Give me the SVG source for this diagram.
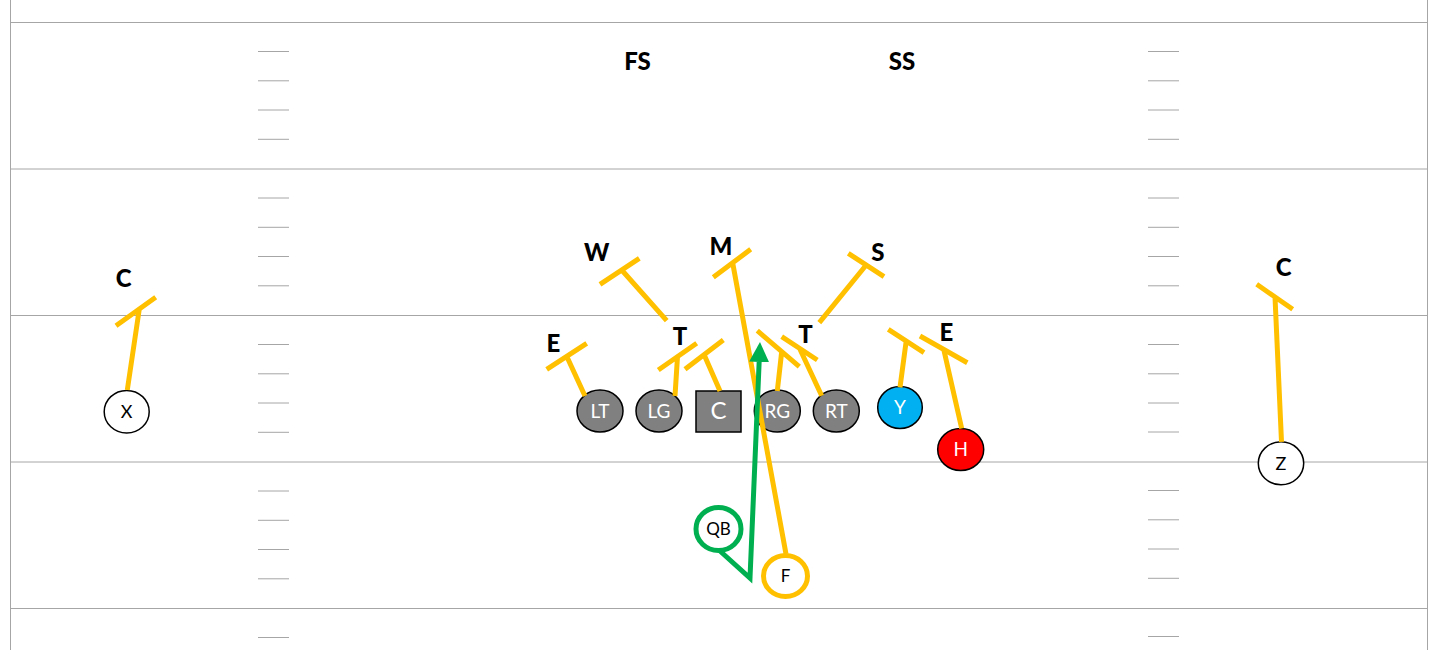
<svg xmlns="http://www.w3.org/2000/svg" width="1441" height="661" viewBox="0 0 1441 661">
<style>
.fl{stroke:#A6A6A6;stroke-width:1;fill:none}
.hm{stroke:#A6A6A6;stroke-width:1}
.rt{stroke:#FFC000;stroke-width:5;fill:none}
.gr{stroke:#00B050;stroke-width:5;fill:none}
.lbl{font-family:Lato,"Liberation Sans",sans-serif;font-weight:900;font-size:24px;text-anchor:middle;fill:#000}
.ol{fill:#808080;stroke:#000;stroke-width:1.5}
.wh{fill:#FFFFFF;stroke:#000;stroke-width:1.5}
.wt{font-family:Lato,"Liberation Sans",sans-serif;font-size:19px;text-anchor:middle;fill:#FFFFFF}
.bt{font-family:Lato,"Liberation Sans",sans-serif;font-size:18px;text-anchor:middle;fill:#000}
</style>
<defs>
<marker id="ah" viewBox="0 0 4 4" refX="0" refY="2" markerWidth="4" markerHeight="4" orient="auto" markerUnits="strokeWidth">
<path d="M0,0 L4,2 L0,4 Z" fill="#00B050"/>
</marker>
</defs>
<rect width="1441" height="661" fill="#FFFFFF"/>
<g id="field">
<path class="fl" d="M10.5,0 V650 M1427.5,0 V650 M10.5,22.5 H1427.5 M10.5,169 H1427.5 M10.5,315.5 H1427.5 M10.5,462 H1427.5 M10.5,608.5 H1427.5"/>
<path class="hm" d="M258,51.5 H289 M258,80.8 H289 M258,110 H289 M258,139.3 H289 M258,198 H289 M258,227.3 H289 M258,256.5 H289 M258,285.8 H289 M258,344.5 H289 M258,373.8 H289 M258,403 H289 M258,432.3 H289 M258,491 H289 M258,520.3 H289 M258,549.5 H289 M258,578.8 H289 M258,637.5 H289"/>
<path class="hm" d="M1148,51.5 H1179 M1148,80.8 H1179 M1148,110 H1179 M1148,139.3 H1179 M1148,198 H1179 M1148,227.3 H1179 M1148,256.5 H1179 M1148,285.8 H1179 M1148,344.5 H1179 M1148,373.8 H1179 M1148,403 H1179 M1148,432 H1179 M1148,490.5 H1179 M1148,519.8 H1179 M1148,549 H1179 M1148,578.3 H1179 M1148,636.5 H1179"/>
</g>
<g id="defense">
<g id="FS"><text class="lbl" x="637.5" y="70">FS</text></g>
<g id="SS"><text class="lbl" x="902" y="70">SS</text></g>
<g id="W"><text class="lbl" x="596.7" y="261">W</text></g>
<g id="M"><text class="lbl" x="720.8" y="255">M</text></g>
<g id="S"><text class="lbl" x="877.8" y="260.7">S</text></g>
<g id="CL"><text class="lbl" x="123.7" y="287">C</text></g>
<g id="CR"><text class="lbl" x="1283.7" y="276">C</text></g>
<g id="EL"><text class="lbl" x="553.3" y="352.3">E</text></g>
<g id="TL"><text class="lbl" x="680" y="345">T</text></g>
<g id="TR"><text class="lbl" x="805.5" y="342.7">T</text></g>
<g id="ER"><text class="lbl" x="946.3" y="340.7">E</text></g>
</g>
<g id="offense">
<g id="X"><ellipse class="wh" cx="126.7" cy="411.7" rx="22.5" ry="21.3"/><text class="bt" x="126.7" y="418">X</text></g>
<g id="LT"><ellipse class="ol" cx="600" cy="411" rx="23" ry="21"/><text class="wt" x="600" y="417.8">LT</text></g>
<g id="LG"><ellipse class="ol" cx="659" cy="411" rx="23" ry="21"/><text class="wt" x="659" y="417.8">LG</text></g>
<g id="C"><rect class="ol" x="696" y="391" width="45" height="41"/><text class="wt" x="718.5" y="419.3" style="font-size:24px">C</text></g>
<g id="RG"><ellipse class="ol" cx="777.3" cy="411" rx="23" ry="21"/><text class="wt" x="777.3" y="417.8">RG</text></g>
<g id="RT"><ellipse class="ol" cx="836.3" cy="411" rx="23" ry="21"/><text class="wt" x="836.3" y="417.8">RT</text></g>
<g id="Y"><ellipse cx="900" cy="407.5" rx="22.3" ry="21" fill="#00B0F0" stroke="#000" stroke-width="1.5"/><text class="wt" x="900" y="414.3">Y</text></g>
<g id="H"><ellipse cx="960.7" cy="449.5" rx="23" ry="21" fill="#FF0000" stroke="#000" stroke-width="1.5"/><text class="wt" x="960.7" y="456.3">H</text></g>
<g id="Z"><ellipse class="wh" cx="1281" cy="463.3" rx="22.7" ry="21.5"/><text class="bt" x="1281" y="469.6">Z</text></g>
<g id="QB"><ellipse cx="718.5" cy="529" rx="22.5" ry="21.5" fill="#FFFFFF" stroke="#00B050" stroke-width="5"/><text class="bt" x="718.5" y="535.2" style="font-size:17px">QB</text></g>
<g id="F"><ellipse cx="785.5" cy="576" rx="22" ry="20.5" fill="#FFFFFF" stroke="#FFC000" stroke-width="5"/><text class="bt" x="785.5" y="582.2" style="font-size:17px">F</text></g>
</g>
<g id="connectors">
<path class="rt" d="M116,325.7 L155.7,297.3 M139.3,309 L127.3,390"/>
<path class="rt" d="M1256.7,284.3 L1292.7,309.3 M1275,297 L1281.5,441.8"/>
<path class="rt" d="M600,284.3 L639.3,258.3 M621.7,270 L666.7,320.7"/>
<path class="rt" d="M713.3,277.3 L750.7,249.3 M732.7,263 L786,554"/>
<path class="rt" d="M546.7,369.3 L586.7,343.3 M566.7,356.3 L585,396"/>
<path class="rt" d="M658.3,370 L696.7,343.3 M677.5,356.6 L675,396"/>
<path class="rt" d="M685,369.3 L723.3,340 M704,354.6 L720,391"/>
<path class="rt" d="M757.3,330.7 L799.3,366.7 M781.7,351.6 L777.3,391"/>
<path class="rt" d="M781.7,336.7 L817.3,360 M799.5,348.3 L821.7,395.7"/>
<path class="rt" d="M848.3,253.3 L884,276.7 M866.2,265 L819.3,322.7"/>
<path class="rt" d="M888.3,329.3 L924,352.7 M906.2,341 L900,387.3"/>
<path class="rt" d="M920,336 L967.3,362.7 M943.7,349.3 L961.7,428.5"/>
<polyline class="gr" points="720,551 750,578 759.15,362" stroke-linejoin="miter" marker-end="url(#ah)"/>
</g>
</svg>
